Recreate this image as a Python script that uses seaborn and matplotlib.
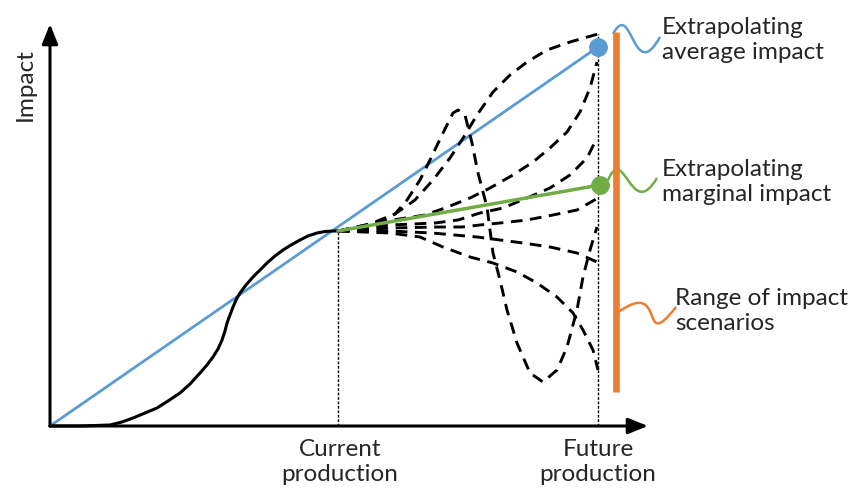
import numpy as np
import pandas as pd
import seaborn as sns
import matplotlib.pyplot as plt
from matplotlib.path import Path
from matplotlib.patches import PathPatch

# chart units: x = production, y = impact (origin at the axes corner)
current_x = 288
future_x = 548

history_x = [0, 30, 60, 72, 83, 95, 107, 118, 130, 140, 150, 157, 163, 168, 172, 175, 177, 180,
             183, 186, 190, 196, 203, 210, 217, 225, 233, 241, 250, 258, 267, 275, 283, 288]
history_y = [0, 0, 1, 4, 8, 13, 18, 25, 33, 42, 53, 61, 69, 77, 86, 95, 103, 111,
             119, 126, 133, 141, 149, 156, 163, 170, 176, 181, 186, 190, 193, 194.5, 195, 195]

scen_top_x = [288, 320, 345, 365, 383, 400, 415, 427, 443, 460, 477, 497, 520, 548]
scen_top_y = [195, 202, 212, 226, 246, 268, 291, 311, 334, 351, 364, 376, 384, 392]
scen_spike_x = [288, 320, 345, 357, 370, 380, 393, 403, 408, 415, 422, 428, 437, 440, 443, 450,
                457, 467, 480, 493, 507, 517, 527, 533, 540, 547]
scen_spike_y = [195, 200, 212, 226, 246, 266, 293, 313, 316, 311, 283, 253, 219, 196, 173, 146,
                116, 83, 53, 44, 56, 79, 116, 149, 176, 199]
scen_b_x = [288, 330, 375, 395, 420, 440, 463, 483, 500, 517, 530, 540, 547]
scen_b_y = [195, 204, 211, 218, 228, 238, 251, 264, 278, 294, 314, 338, 364]
scen_c_x = [288, 340, 385, 408, 430, 453, 477, 500, 520, 537, 547]
scen_c_y = [195, 201, 203, 206, 213, 218, 228, 238, 251, 268, 288]
scen_d_x = [288, 340, 388, 412, 430, 450, 477, 503, 527, 548]
scen_d_y = [195, 198, 199, 199, 201, 203, 206, 211, 216, 228]
scen_e_x = [288, 340, 382, 427, 450, 473, 500, 527, 547]
scen_e_y = [195, 195, 193, 189, 186, 183, 179, 173, 164]
scen_g_x = [288, 340, 370, 393, 420, 443, 467, 487, 507, 523, 533, 543, 548]
scen_g_y = [195, 193, 189, 179, 169, 163, 154, 143, 129, 113, 96, 76, 56]

average_x = [0, 548]
average_y = [0, 379]
marginal_x = [288, 550]
marginal_y = [195, 241]
range_low, range_high = 34, 394
range_x = 566

scenarios = pd.concat([
    pd.DataFrame({"x": xs, "y": ys, "scenario": name})
    for name, xs, ys in [("top", scen_top_x, scen_top_y), ("spike", scen_spike_x, scen_spike_y),
                         ("b", scen_b_x, scen_b_y), ("c", scen_c_x, scen_c_y),
                         ("d", scen_d_x, scen_d_y), ("e", scen_e_x, scen_e_y),
                         ("g", scen_g_x, scen_g_y)]
])

sns.set_theme(style="white")
plt.rcParams['font.family'] = ['Lato', 'DejaVu Sans']

BLUE = "#5B9BD5"
GREEN = "#70AD47"
ORANGE = "#ED7D31"

fig = plt.figure(figsize=(8.6, 4.92), dpi=100)
ax = fig.add_axes([0, 0, 1, 1])
ax.set_xlim(-50, 810)
ax.set_ylim(-66, 426)
ax.axis("off")

# axes arrows
ax.annotate("", xy=(0, 402), xytext=(0, 0),
            arrowprops=dict(arrowstyle="-|>,head_length=1.0,head_width=0.4", color="black", lw=2.2,
                            shrinkA=0, shrinkB=0))
ax.annotate("", xy=(598, 0), xytext=(0, 0),
            arrowprops=dict(arrowstyle="-|>,head_length=1.0,head_width=0.4", color="black", lw=2.2,
                            shrinkA=0, shrinkB=0))

# dotted guides
ax.plot([current_x, current_x], [0, 195], color="black", lw=1.0, linestyle=(0, (2, 1.2)))
ax.plot([future_x, future_x], [0, 392], color="black", lw=1.0, linestyle=(0, (2, 1.2)))

sns.lineplot(x=average_x, y=average_y, ax=ax, color=BLUE, lw=2.0)
sns.lineplot(x=history_x, y=history_y, ax=ax, color="black", lw=2.2, sort=False, estimator=None)

for name, grp in scenarios.groupby("scenario", sort=False):
    sns.lineplot(data=grp, x="x", y="y", ax=ax, color="black", lw=2.1,
                 linestyle=(0, (4, 2.6)), sort=False, estimator=None)

sns.lineplot(x=marginal_x, y=marginal_y, ax=ax, color=GREEN, lw=2.5)
ax.plot([average_x[-1]], [average_y[-1]], "o", color=BLUE, ms=12.5)
ax.plot([marginal_x[-1]], [marginal_y[-1]], "o", color=GREEN, ms=12.5)

ax.plot([range_x, range_x], [range_low, range_high], color=ORANGE, lw=4.8, solid_capstyle="butt")


def squiggle(p0, p1, p2, p3, color):
    path = Path([p0, p1, p2, p3], [Path.MOVETO, Path.CURVE4, Path.CURVE4, Path.CURVE4])
    ax.add_patch(PathPatch(path, fc="none", ec=color, lw=1.8))


squiggle((563, 392), (582, 428), (583, 340), (610, 389), BLUE)
squiggle((556, 241), (574, 290), (580, 202), (607, 248), GREEN)
squiggle((567, 113), (618, 150), (588, 70), (626, 119), ORANGE)

fs = 17.5
ls = 1.2
ax.text(612, 386, "Extrapolating\naverage impact", fontsize=fs, va="center", ha="left", linespacing=ls)
ax.text(612, 244, "Extrapolating\nmarginal impact", fontsize=fs, va="center", ha="left", linespacing=ls)
ax.text(625, 115, "Range of impact\nscenarios", fontsize=fs, va="center", ha="left", linespacing=ls)
ax.text(current_x + 2, -36, "Current\nproduction", fontsize=fs, va="center", ha="center", linespacing=ls)
ax.text(future_x, -36, "Future\nproduction", fontsize=fs, va="center", ha="center", linespacing=ls)
ax.text(-25, 341, "Impact", fontsize=fs, va="center", ha="center", rotation=90)

fig.savefig("out.png", dpi=100)
